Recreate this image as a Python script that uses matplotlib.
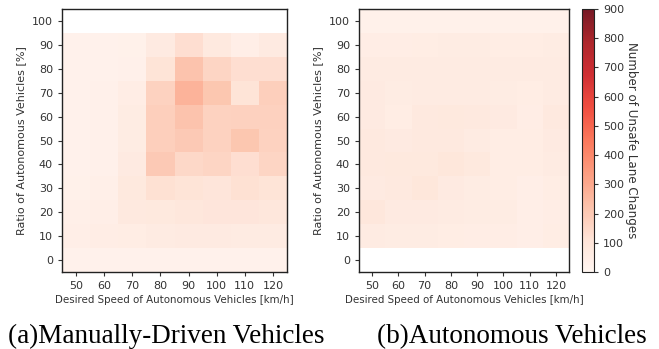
import numpy as np
import matplotlib
matplotlib.use("Agg")
from matplotlib import pyplot as plt

# desired speed [km/h] and ratio of autonomous vehicles [%]
speeds = [50, 60, 70, 80, 90, 100, 110, 120]
ratios = [0, 10, 20, 30, 40, 50, 60, 70, 80, 90, 100]

# unsafe lane changes, rows = ratios (0..100), cols = speeds
manual_counts = [
    [25, 25, 25, 25, 25, 25, 25, 25],
    [45, 50, 55, 65, 70, 70, 65, 65],
    [40, 45, 75, 80, 85, 95, 95, 85],
    [30, 40, 80, 120, 110, 100, 120, 110],
    [25, 35, 70, 200, 150, 160, 130, 160],
    [25, 35, 60, 180, 200, 170, 210, 170],
    [25, 35, 60, 180, 220, 170, 175, 175],
    [25, 35, 50, 170, 270, 210, 110, 180],
    [25, 25, 35, 110, 220, 160, 130, 130],
    [25, 25, 30, 70, 130, 75, 45, 70],
    [np.nan] * 8,
]
auto_counts = [
    [np.nan] * 8,
    [65, 60, 60, 55, 50, 50, 45, 55],
    [85, 70, 70, 65, 60, 60, 45, 50],
    [70, 75, 90, 70, 60, 55, 45, 55],
    [75, 80, 80, 90, 80, 55, 55, 65],
    [75, 70, 75, 75, 65, 55, 55, 70],
    [70, 55, 75, 80, 75, 70, 50, 75],
    [70, 60, 65, 65, 65, 60, 55, 65],
    [65, 65, 65, 65, 65, 65, 65, 65],
    [50, 50, 55, 60, 60, 55, 55, 60],
    [30, 30, 30, 30, 30, 30, 30, 30],
]

vmin, vmax = 0, 900
tick_color = "#333333"
tick_size = 8


def draw_heatmap(ax, counts):
    xs = np.array(speeds)
    ys = np.array(ratios)
    x_edges = np.append(xs - 5, xs[-1] + 5)
    y_edges = np.append(ys - 5, ys[-1] + 5)
    mesh = ax.pcolormesh(x_edges, y_edges, np.ma.masked_invalid(np.array(counts)),
                         cmap="Reds", vmin=vmin, vmax=vmax, alpha=0.9)
    ax.set_xticks(speeds)
    ax.set_yticks(ratios)
    ax.set_xlim(x_edges[0], x_edges[-1])
    ax.set_ylim(y_edges[0], y_edges[-1])
    ax.tick_params(labelsize=tick_size, colors=tick_color, length=3)
    ax.set_xlabel("Desired Speed of Autonomous Vehicles [km/h]", fontsize=7.4,
                  color=tick_color, labelpad=3)
    ax.set_ylabel("Ratio of Autonomous Vehicles [%]", fontsize=8,
                  color=tick_color, labelpad=4)
    for sp in ax.spines.values():
        sp.set_color("#222222")
        sp.set_linewidth(1.0)
    return mesh


fig = plt.figure(figsize=(6.59, 3.49), dpi=100)
ax1 = fig.add_axes([0.0941, 0.2206, 0.3414, 0.7536])
ax2 = fig.add_axes([0.5448, 0.2206, 0.3187, 0.7536])
cax = fig.add_axes([0.8832, 0.2206, 0.0182, 0.7536])

draw_heatmap(ax1, manual_counts)
mesh = draw_heatmap(ax2, auto_counts)

cb = fig.colorbar(mesh, cax=cax)
cb.set_ticks(np.arange(0, 901, 100))
cb.ax.tick_params(labelsize=tick_size, colors=tick_color, length=3)
cb.outline.set_edgecolor("#222222")
cb.set_label("Number of Unsafe Lane Changes", rotation=270, fontsize=8.6,
             color=tick_color, labelpad=10)

fig.text(0.252, 0.016, "(a)Manually-Driven Vehicles", family="Liberation Serif",
         fontsize=19.5, ha="center", va="baseline")
fig.text(0.777, 0.016, "(b)Autonomous Vehicles", family="Liberation Serif",
         fontsize=19.5, ha="center", va="baseline")

fig.savefig("out.png", dpi=100)
